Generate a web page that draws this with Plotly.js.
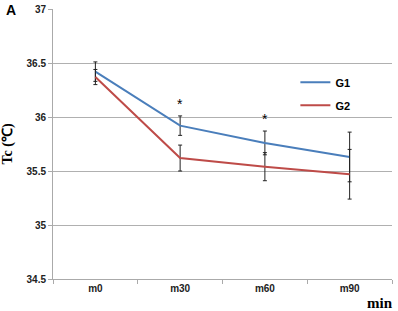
<!DOCTYPE html>
<html>
<head>
<meta charset="utf-8">
<script src="https://cdn.plot.ly/plotly-3.0.1.min.js"></script>
<style>html,body{margin:0;padding:0;background:#fff}#chart{width:398px;height:311px}</style>
</head>
<body>
<div id="chart"></div>
<script>
const categories = ["m0", "m30", "m60", "m90"];
const g1Values = [36.42, 35.92, 35.76, 35.63];
const g2Values = [36.37, 35.62, 35.54, 35.47];
const g1Errors = [0.09, 0.09, 0.11, 0.23];
const g2Errors = [0.07, 0.12, 0.13, 0.23];
const starCategories = ["m30", "m60"];
const starValues = [36.12, 35.98];

const traces = [
  {x: categories, y: g1Values, name: "G1", type: "scatter", mode: "lines", legendgroup: "a",
   line: {color: "#4a7ebb", width: 2},
   error_y: {type: "data", array: g1Errors, visible: true, color: "#222", thickness: 1, width: 2}},
  {x: categories, y: g2Values, name: "G2", type: "scatter", mode: "lines", legendgroup: "b",
   line: {color: "#be4b48", width: 2},
   error_y: {type: "data", array: g2Errors, visible: true, color: "#222", thickness: 1, width: 2}}
];

const annotations = starCategories.map((c, i) => ({
  x: c, y: starValues[i], xref: "x", yref: "y", text: "*", showarrow: false,
  font: {family: "Liberation Sans, Arial", size: 14, color: "#000"}
}));
annotations.push({xref: "paper", yref: "paper", x: -0.125, y: 0.995, xanchor: "center", yanchor: "middle",
  text: "<b>A</b>", showarrow: false, font: {family: "Liberation Sans, Arial", size: 14, color: "#000"}});
annotations.push({xref: "paper", yref: "paper", x: 1.01, y: -0.088, xanchor: "right", yanchor: "middle",
  text: "<b>min</b>", showarrow: false, font: {family: "Liberation Serif, Times New Roman", size: 15, color: "#000"}});

const layout = {
  width: 398, height: 311,
  margin: {l: 53, r: 6, t: 9, b: 32},
  paper_bgcolor: "#fff", plot_bgcolor: "#fff",
  showlegend: true,
  legend: {x: 0.715, y: 0.782, xanchor: "left", yanchor: "top", bgcolor: "rgba(0,0,0,0)",
    font: {family: "Liberation Sans, Arial", size: 11, color: "#000", weight: "bold"},
    tracegroupgap: 4, itemwidth: 30},
  xaxis: {
    type: "category", tickson: "boundaries", ticks: "outside", ticklen: 4, tickcolor: "#aaa",
    showline: true, linecolor: "#aaa", linewidth: 1, showgrid: false, zeroline: false,
    tickfont: {family: "Liberation Sans, Arial", size: 10, color: "#222", weight: "bold"},
    range: [-0.5, 3.5], fixedrange: true
  },
  yaxis: {
    range: [34.5, 37], dtick: 0.5, tick0: 34.5, ticks: "outside", ticklen: 4, tickcolor: "#aaa",
    showline: true, linecolor: "#aaa", linewidth: 1, showgrid: true, gridcolor: "#b0b0b0", gridwidth: 1,
    zeroline: false,
    tickfont: {family: "Liberation Sans, Arial", size: 10, color: "#222", weight: "bold"},
    title: {text: "Tc (℃)", standoff: 12, font: {family: "Liberation Serif, Times New Roman", size: 14, color: "#000", weight: "bold"}}
  },
  annotations: annotations
};

Plotly.newPlot("chart", traces, layout, {displayModeBar: false, staticPlot: true});
</script>
</body>
</html>
